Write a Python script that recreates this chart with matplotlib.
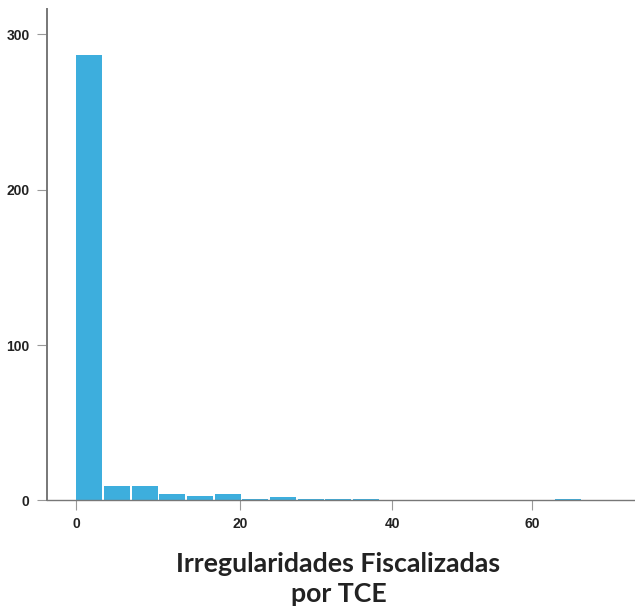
import matplotlib
matplotlib.use("Agg")
import matplotlib.pyplot as plt

# histogram of irregularities per TCE (bins)
bin_starts = [0, 3.375, 6.75, 10.125, 13.5, 16.875, 20.25, 23.625, 27.0, 30.375, 33.75, 58.4]
bin_width = 3.375
counts = [287, 9, 9, 4, 3, 4, 1, 2, 1, 1, 1, 1]

x_tick_pos = [0, 20, 38.5, 55.6]
x_tick_labels = ["0", "20", "40", "60"]
y_ticks = [0, 100, 200, 300]

title = "Irregularidades Fiscalizadas\npor TCE"

fig = plt.figure(figsize=(6.35, 6.10), dpi=100)
ax = fig.add_axes([0.0735, 0.1798, 0.9265, 0.8054])

ax.bar(bin_starts, counts, width=bin_width * 0.94, align="edge", color="#3daedd", linewidth=0)

ax.set_xlim(-3.6, 68.1)
ax.set_ylim(0, 316.4)

lbl_kw = dict(fontfamily="Liberation Sans", fontweight="bold", fontsize=10, color="#222222")
ax.set_xticks(x_tick_pos, x_tick_labels, **lbl_kw)
ax.set_yticks(y_ticks, [str(v) for v in y_ticks], **lbl_kw)

for s in ["top", "right"]:
    ax.spines[s].set_visible(False)
ax.spines["left"].set_color("#777777")
ax.spines["left"].set_linewidth(1.4)
ax.spines["bottom"].set_color("#777777")
ax.spines["bottom"].set_linewidth(1.0)

ax.tick_params(axis="both", length=7.2, width=0.8, color="#999999", pad=5)

fig.text(0.533, 0.051, title, ha="center", va="center", fontsize=19.3,
         fontweight="bold", family="Lato", color="#222222", linespacing=1.32)

fig.savefig("out.png", dpi=100)
